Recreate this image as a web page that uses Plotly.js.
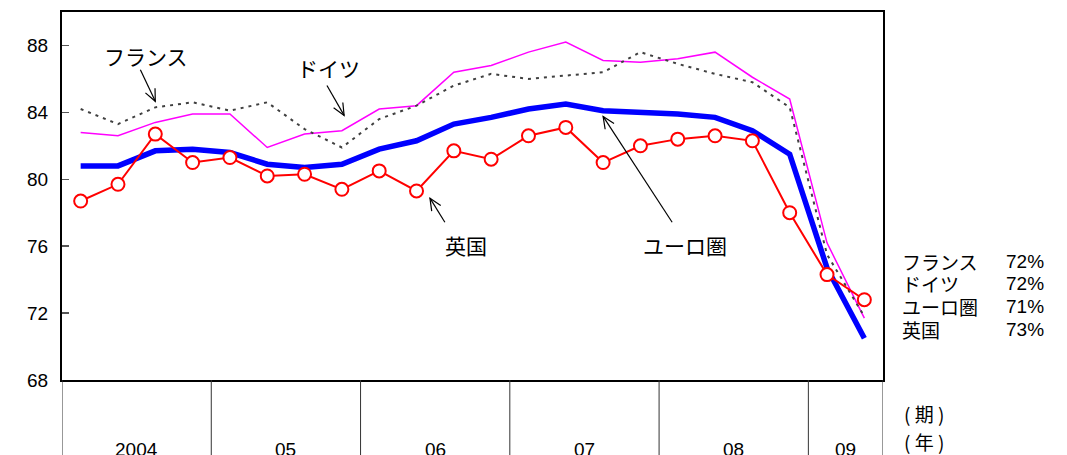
<!DOCTYPE html>
<html>
<head>
<meta charset="utf-8">
<script src="https://cdn.plot.ly/plotly-3.0.1.min.js"></script>
<style>html,body{margin:0;padding:0;background:#fff;}#chart{width:1067px;height:455px;}</style>
</head>
<body>
<div id="chart"></div>
<script>
// Quarterly periods 2004Q1 .. 2009Q2 (index positions)
const periods = ["04Q1","04Q2","04Q3","04Q4","05Q1","05Q2","05Q3","05Q4","06Q1","06Q2","06Q3","06Q4","07Q1","07Q2","07Q3","07Q4","08Q1","08Q2","08Q3","08Q4","09Q1","09Q2"];
const france  = [84.2,83.3,84.3,84.6,84.1,84.6,83.0,81.9,83.6,84.4,85.6,86.3,86.0,86.2,86.4,87.6,86.9,86.3,85.8,84.3,75.5,71.8];
const germany = [82.8,82.6,83.4,83.9,83.9,81.9,82.7,82.9,84.2,84.4,86.4,86.8,87.6,88.2,87.1,87.0,87.2,87.6,86.1,84.8,76.2,71.7];
const euro    = [80.8,80.8,81.7,81.8,81.6,80.9,80.7,80.9,81.8,82.3,83.3,83.7,84.2,84.5,84.1,84.0,83.9,83.7,82.9,81.5,74.7,70.5];
const uk      = [78.7,79.7,82.7,81.0,81.3,80.2,80.3,79.4,80.5,79.3,81.7,81.2,82.6,83.1,81.0,82.0,82.4,82.6,82.3,78.0,74.3,72.8];

const yearLabels = ["2004","05","06","07","08","09"];
const yearQuarters = [4,4,4,4,4,2];
const legendNames = ["フランス","ドイツ","ユーロ圏","英国"];
const legendValues = ["72%","72%","71%","73%"];
const yTicks = [68,72,76,80,84,88];

const xs = periods.map((_, i) => i);
const jp = "Noto Sans CJK JP";
const ar = "Arial, Liberation Sans, sans-serif";

const W = 1067, H = 455;
const M = {l: 62, r: 184, t: 12, b: 75};
const XR = [-0.5, 21.5], YR = [68, 90];
const pw = W - M.l - M.r, ph = H - M.t - M.b;

const traces = [
  {x: xs, y: germany, mode: "lines", line: {color: "#FF00FF", width: 1.5}, hoverinfo: "skip"},
  {x: xs, y: france, mode: "lines", line: {color: "#404040", width: 2, dash: "3px,5px"}, hoverinfo: "skip"},
  {x: xs, y: euro, mode: "lines", line: {color: "#0000FF", width: 5.5}, hoverinfo: "skip"},
  {x: xs, y: uk, mode: "lines+markers", line: {color: "#FF0000", width: 2},
   marker: {symbol: "circle", size: 13, color: "#FFFFFF", line: {color: "#FF0000", width: 2}}, hoverinfo: "skip"}
];

// year boundaries
const bounds = [-0.5];
yearQuarters.forEach(q => bounds.push(bounds[bounds.length - 1] + q));

const shapes = bounds.map(b => ({
  type: "line", xref: "x", yref: "paper", x0: b, x1: b, y0: 0, y1: -0.3,
  line: {color: "#333", width: 1}
}));

// arrows drawn as thin lines with open V heads (head at first pair, tail at second)
const arrows = [
  [2.0, 84.66, 1.6, 86.55],
  [7.06, 83.82, 6.6, 85.61],
  [9.36, 78.87, 9.76, 77.43],
  [14.0, 83.76, 15.85, 77.43]
];
const toPx = (x, y) => [(x - XR[0]) / (XR[1] - XR[0]) * pw, (YR[1] - y) / (YR[1] - YR[0]) * ph];
const toData = (px, py) => [XR[0] + px / pw * (XR[1] - XR[0]), YR[1] - py / ph * (YR[1] - YR[0])];
arrows.forEach(a => {
  shapes.push({type: "line", xref: "x", yref: "y", x0: a[2], y0: a[3], x1: a[0], y1: a[1],
    line: {color: "#000", width: 1.2}});
  const h = toPx(a[0], a[1]), t = toPx(a[2], a[3]);
  const ang = Math.atan2(t[1] - h[1], t[0] - h[0]);
  const L = 13, spread = 0.42;
  const w1 = toData(h[0] + L * Math.cos(ang + spread), h[1] + L * Math.sin(ang + spread));
  const w2 = toData(h[0] + L * Math.cos(ang - spread), h[1] + L * Math.sin(ang - spread));
  shapes.push({type: "path", xref: "x", yref: "y",
    path: `M ${w1[0]},${w1[1]} L ${a[0]},${a[1]} L ${w2[0]},${w2[1]}`,
    line: {color: "#000", width: 1.2}});
});

const annotations = [];
yearLabels.forEach((t, i) => {
  annotations.push({xref: "x", yref: "paper", x: (bounds[i] + bounds[i + 1]) / 2, y: -0.155,
    yanchor: "top", xanchor: "center", text: t, showarrow: false, font: {family: ar, size: 19, color: "#000"}});
});
annotations.push({xref: "paper", yref: "paper", x: 1.0505, y: -0.09, xanchor: "center", yanchor: "middle",
  text: "( 期 )", showarrow: false, font: {family: jp, size: 19, color: "#000"}});
annotations.push({xref: "paper", yref: "paper", x: 1.0505, y: -0.168, xanchor: "center", yanchor: "middle",
  text: "( 年 )", showarrow: false, font: {family: jp, size: 19, color: "#000"}});

const rowY = [0.323, 0.262, 0.200, 0.138];
legendNames.forEach((n, i) => {
  annotations.push({xref: "paper", yref: "paper", x: 1.0205, y: rowY[i], xanchor: "left", yanchor: "middle",
    text: n, showarrow: false, font: {family: jp, size: 19, color: "#000"}});
  annotations.push({xref: "paper", yref: "paper", x: 1.147, y: rowY[i], xanchor: "left", yanchor: "middle",
    text: legendValues[i], showarrow: false, font: {family: ar, size: 19, color: "#000"}});
});

// series labels
const labelFont = {family: jp, size: 21, color: "#000"};
annotations.push({x: 1.75, y: 87.34, text: "フランス", showarrow: false, font: labelFont});
annotations.push({x: 6.63, y: 86.63, text: "ドイツ", showarrow: false, font: labelFont});
annotations.push({x: 10.33, y: 76.06, text: "英国", showarrow: false, font: labelFont});
annotations.push({x: 16.19, y: 76.06, text: "ユーロ圏", showarrow: false, font: labelFont});

const layout = {
  width: W, height: H,
  margin: {l: M.l, r: M.r, t: M.t, b: M.b, pad: 0},
  paper_bgcolor: "#fff", plot_bgcolor: "#fff",
  showlegend: false,
  xaxis: {range: XR, showticklabels: false, ticks: "", showgrid: false, zeroline: false,
    showline: true, mirror: true, linecolor: "#000", linewidth: 2, fixedrange: true},
  yaxis: {range: YR, tickvals: yTicks, ticktext: yTicks.map(String), ticks: "inside", ticklen: 7,
    tickcolor: "#555", tickwidth: 1.5, showgrid: false, zeroline: false,
    showline: true, mirror: true, linecolor: "#000", linewidth: 2,
    tickfont: {family: ar, size: 19, color: "#000"}, ticklabelstandoff: 8, fixedrange: true},
  shapes: shapes,
  annotations: annotations
};

Plotly.newPlot("chart", traces, layout, {staticPlot: true, displayModeBar: false});
</script>
</body>
</html>
